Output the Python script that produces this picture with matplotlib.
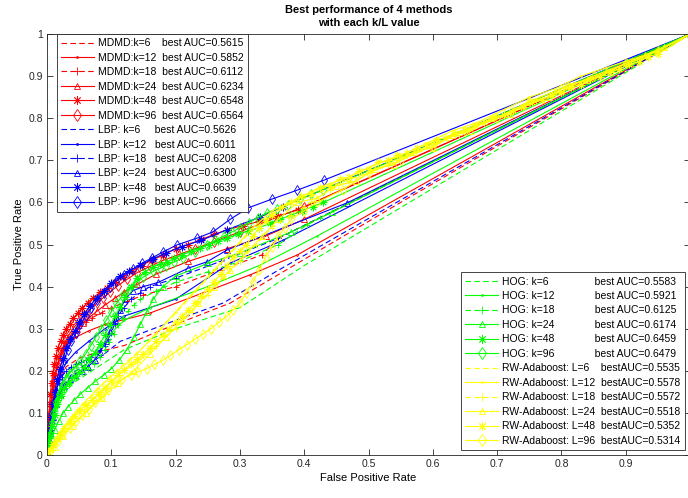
import matplotlib
matplotlib.use("Agg")
import matplotlib.pyplot as plt

plt.rcParams['font.family'] = ['Liberation Sans', 'DejaVu Sans']

# ---- ROC points (fpr, tpr) ----
# MDMD (red)
MDMD_K6_FPR = [0, 0.004, 0.01, 0.018, 0.03, 0.05, 0.08, 0.12, 0.183, 0.285, 0.55, 1]
MDMD_K6_TPR = [0, 0.06, 0.13, 0.18, 0.21, 0.23, 0.245, 0.26, 0.30, 0.361, 0.60, 1]
MDMD_K12_FPR = [0, 0.003, 0.007, 0.012, 0.02, 0.03, 0.045, 0.065, 0.09, 0.16, 0.316, 0.389, 1]
MDMD_K12_TPR = [0, 0.07, 0.14, 0.19, 0.23, 0.26, 0.28, 0.295, 0.31, 0.337, 0.428, 0.475, 1]
MDMD_K18_FPR = [0, 0.002, 0.004, 0.006, 0.008, 0.01, 0.013, 0.016, 0.02, 0.025, 0.03, 0.036, 0.043,
                0.05, 0.06, 0.07, 0.085, 0.1, 0.125, 0.15, 0.2, 0.27, 0.334, 0.36, 1]
MDMD_K18_TPR = [0, 0.04, 0.08, 0.11, 0.14, 0.165, 0.19, 0.21, 0.23, 0.25, 0.265, 0.278, 0.29,
                0.302, 0.315, 0.326, 0.338, 0.35, 0.365, 0.38, 0.4, 0.44, 0.475, 0.515, 1]
MDMD_K24_FPR = [0, 0.001, 0.003, 0.005, 0.007, 0.01, 0.013, 0.017, 0.021, 0.026, 0.032, 0.039, 0.047,
                0.056, 0.066, 0.078, 0.09, 0.105, 0.12, 0.14, 0.17, 0.22, 0.28, 0.34, 0.4, 1]
MDMD_K24_TPR = [0, 0.03, 0.07, 0.1, 0.13, 0.16, 0.19, 0.215, 0.237, 0.256, 0.272, 0.287, 0.3,
                0.313, 0.327, 0.342, 0.356, 0.372, 0.387, 0.405, 0.43, 0.46, 0.49, 0.52, 0.56, 1]
MDMD_K48_FPR = [0, 0.001, 0.002, 0.003, 0.004, 0.005, 0.007, 0.009, 0.011, 0.014, 0.017, 0.021, 0.025,
                0.03, 0.035, 0.041, 0.048, 0.055, 0.063, 0.072, 0.082, 0.093, 0.105, 0.118, 0.132,
                0.147, 0.163, 0.18, 0.2, 0.22, 0.24, 0.26, 0.28, 0.305, 0.33, 0.36, 0.39, 1]
MDMD_K48_TPR = [0, 0.03, 0.06, 0.09, 0.12, 0.145, 0.17, 0.195, 0.215, 0.235, 0.255, 0.27, 0.285,
                0.3, 0.312, 0.325, 0.338, 0.35, 0.362, 0.374, 0.386, 0.397, 0.41, 0.423, 0.437,
                0.45, 0.463, 0.474, 0.49, 0.5, 0.512, 0.524, 0.535, 0.545, 0.555, 0.568, 0.582, 1]
MDMD_K96_FPR = [0, 0.001, 0.002, 0.003, 0.005, 0.007, 0.009, 0.011, 0.014, 0.017, 0.021, 0.025, 0.03,
                0.036, 0.043, 0.05, 0.058, 0.067, 0.077, 0.087, 0.098, 0.11, 0.125, 0.14, 0.16, 0.18,
                0.205, 0.23, 0.26, 0.3, 0.35, 0.4, 1]
MDMD_K96_TPR = [0, 0.025, 0.05, 0.075, 0.1, 0.125, 0.15, 0.175, 0.2, 0.22, 0.24, 0.258, 0.275,
                0.29, 0.305, 0.318, 0.332, 0.346, 0.36, 0.373, 0.387, 0.402, 0.418, 0.433, 0.448, 0.462,
                0.476, 0.49, 0.507, 0.53, 0.56, 0.59, 1]

# LBP (blue)
LBP_K6_FPR = [0, 0.006, 0.014, 0.025, 0.04, 0.06, 0.085, 0.114, 0.2, 0.274, 0.352, 1]
LBP_K6_TPR = [0, 0.06, 0.12, 0.165, 0.195, 0.215, 0.235, 0.27, 0.32, 0.361, 0.432, 1]
LBP_K12_FPR = [0, 0.005, 0.012, 0.02, 0.03, 0.045, 0.065, 0.09, 0.12, 0.2, 0.285, 0.367, 1]
LBP_K12_TPR = [0, 0.07, 0.14, 0.19, 0.22, 0.245, 0.27, 0.3, 0.33, 0.37, 0.456, 0.51, 1]
LBP_K18_FPR = [0, 0.002, 0.004, 0.007, 0.01, 0.014, 0.018, 0.023, 0.03, 0.037, 0.045, 0.053, 0.06,
               0.068, 0.075, 0.083, 0.09, 0.095, 0.1, 0.105, 0.11, 0.12, 0.13, 0.145, 0.16, 0.2,
               0.27, 0.36, 1]
LBP_K18_TPR = [0, 0.03, 0.06, 0.09, 0.12, 0.145, 0.17, 0.186, 0.2, 0.208, 0.215, 0.22, 0.225,
               0.232, 0.24, 0.25, 0.26, 0.275, 0.29, 0.31, 0.33, 0.35, 0.37, 0.385, 0.4, 0.42,
               0.46, 0.515, 1]
LBP_K24_FPR = [0, 0.002, 0.005, 0.009, 0.014, 0.02, 0.027, 0.035, 0.044, 0.054, 0.064, 0.074, 0.083,
               0.091, 0.098, 0.105, 0.113, 0.122, 0.133, 0.15, 0.173, 0.22, 0.249, 0.28, 0.467, 1]
LBP_K24_TPR = [0, 0.03, 0.06, 0.09, 0.12, 0.145, 0.165, 0.18, 0.19, 0.2, 0.21, 0.225, 0.245,
               0.27, 0.295, 0.32, 0.345, 0.37, 0.39, 0.4, 0.41, 0.444, 0.459, 0.487, 0.599, 1]
LBP_K48_FPR = [0, 0.002, 0.004, 0.006, 0.009, 0.012, 0.016, 0.02, 0.025, 0.03, 0.036, 0.043, 0.05,
               0.058, 0.067, 0.077, 0.088, 0.1, 0.113, 0.128, 0.145, 0.165, 0.185, 0.21, 0.24, 0.28,
               0.331, 0.367, 1]
LBP_K48_TPR = [0, 0.03, 0.06, 0.09, 0.12, 0.15, 0.18, 0.205, 0.23, 0.255, 0.275, 0.295, 0.315,
               0.335, 0.355, 0.373, 0.39, 0.408, 0.424, 0.438, 0.451, 0.466, 0.48, 0.495, 0.51, 0.535,
               0.565, 0.59, 1]
LBP_K96_FPR = [0, 0.002, 0.004, 0.006, 0.008, 0.011, 0.014, 0.018, 0.022, 0.027, 0.032, 0.038, 0.045,
               0.052, 0.06, 0.069, 0.078, 0.088, 0.098, 0.108, 0.12, 0.133, 0.147, 0.163, 0.18, 0.202,
               0.233, 0.258, 0.285, 0.313, 0.35, 0.389, 0.431, 1]
LBP_K96_TPR = [0, 0.025, 0.05, 0.075, 0.1, 0.125, 0.15, 0.175, 0.2, 0.225, 0.25, 0.27, 0.29,
               0.31, 0.33, 0.35, 0.368, 0.385, 0.4, 0.414, 0.428, 0.441, 0.455, 0.468, 0.482, 0.499,
               0.515, 0.53, 0.56, 0.587, 0.608, 0.629, 0.653, 1]

# HOG (green)
HOG_K6_FPR = [0, 0.006, 0.014, 0.025, 0.04, 0.06, 0.08, 0.1, 0.12, 0.2, 0.3, 0.4, 1]
HOG_K6_TPR = [0, 0.05, 0.1, 0.14, 0.17, 0.19, 0.21, 0.23, 0.25, 0.3, 0.35, 0.45, 1]
HOG_K12_FPR = [0, 0.005, 0.012, 0.02, 0.03, 0.045, 0.065, 0.085, 0.1, 0.12, 0.16, 0.25, 0.33, 0.42, 1]
HOG_K12_TPR = [0, 0.06, 0.12, 0.16, 0.19, 0.21, 0.23, 0.26, 0.29, 0.32, 0.35, 0.4, 0.45, 0.52, 1]
HOG_K18_FPR = [0, 0.002, 0.005, 0.008, 0.012, 0.017, 0.023, 0.03, 0.038, 0.046, 0.055, 0.064, 0.073,
               0.082, 0.09, 0.097, 0.104, 0.111, 0.118, 0.126, 0.135, 0.145, 0.17, 0.2, 0.25, 0.3,
               0.36, 0.404, 0.425, 1]
HOG_K18_TPR = [0, 0.03, 0.055, 0.08, 0.105, 0.13, 0.15, 0.165, 0.178, 0.188, 0.196, 0.205, 0.217,
               0.232, 0.25, 0.268, 0.288, 0.308, 0.326, 0.342, 0.356, 0.37, 0.39, 0.41, 0.435, 0.46,
               0.5, 0.546, 0.563, 1]
HOG_K24_FPR = [0, 0.003, 0.007, 0.012, 0.018, 0.025, 0.033, 0.042, 0.052, 0.063, 0.075, 0.088, 0.1,
               0.112, 0.124, 0.135, 0.145, 0.155, 0.165, 0.18, 0.2, 0.25, 0.3, 0.38, 0.443, 1]
HOG_K24_TPR = [0, 0.02, 0.04, 0.06, 0.08, 0.1, 0.115, 0.13, 0.145, 0.16, 0.175, 0.19, 0.205,
               0.225, 0.25, 0.28, 0.31, 0.34, 0.37, 0.4, 0.425, 0.455, 0.48, 0.53, 0.577, 1]
HOG_K48_FPR = [0, 0.002, 0.005, 0.008, 0.012, 0.016, 0.021, 0.027, 0.034, 0.042, 0.05, 0.058, 0.066,
               0.074, 0.082, 0.09, 0.098, 0.106, 0.114, 0.122, 0.13, 0.14, 0.152, 0.165, 0.176, 0.187,
               0.198, 0.21, 0.224, 0.238, 0.252, 0.266, 0.28, 0.297, 0.313, 0.33, 0.347, 0.363, 0.38,
               0.397, 0.413, 0.43, 1]
HOG_K48_TPR = [0, 0.02, 0.045, 0.07, 0.095, 0.12, 0.14, 0.158, 0.172, 0.185, 0.197, 0.21, 0.225,
               0.243, 0.263, 0.285, 0.308, 0.33, 0.352, 0.375, 0.398, 0.42, 0.435, 0.447, 0.453, 0.459,
               0.467, 0.475, 0.484, 0.492, 0.5, 0.508, 0.515, 0.524, 0.532, 0.54, 0.55, 0.56, 0.57,
               0.58, 0.59, 0.6, 1]
HOG_K96_FPR = [0, 0.002, 0.004, 0.007, 0.01, 0.014, 0.018, 0.023, 0.029, 0.036, 0.044, 0.052, 0.06,
               0.068, 0.076, 0.084, 0.092, 0.1, 0.108, 0.117, 0.127, 0.138, 0.15, 0.165, 0.175, 0.185,
               0.198, 0.212, 0.23, 0.249, 0.262, 0.275, 0.288, 0.3, 0.314, 0.328, 0.342, 0.358, 0.375,
               0.393, 0.411, 0.43, 1]
HOG_K96_TPR = [0, 0.025, 0.05, 0.075, 0.1, 0.125, 0.145, 0.165, 0.18, 0.195, 0.21, 0.225, 0.24,
               0.26, 0.28, 0.3, 0.32, 0.34, 0.36, 0.378, 0.395, 0.41, 0.423, 0.436, 0.443, 0.45,
               0.459, 0.468, 0.483, 0.499, 0.51, 0.52, 0.53, 0.54, 0.552, 0.564, 0.575, 0.585, 0.595,
               0.607, 0.619, 0.63, 1]

# RW-Adaboost (yellow)
RW_L6_FPR = [0, 0.01, 0.025, 0.045, 0.07, 0.1, 0.13, 0.16, 0.19, 0.22, 0.25, 0.28, 0.31, 0.34, 0.38,
             0.42, 0.46, 0.5, 0.54, 0.58, 0.62, 0.66, 0.7, 0.74, 0.78, 0.82, 0.86, 0.9, 0.94, 0.97, 1]
RW_L6_TPR = [0, 0.03, 0.06, 0.1, 0.14, 0.19, 0.23, 0.27, 0.32, 0.37, 0.42, 0.47, 0.52, 0.56, 0.6,
             0.62, 0.65, 0.67, 0.7, 0.72, 0.75, 0.78, 0.8, 0.83, 0.85, 0.88, 0.9, 0.93, 0.95, 0.97, 1]
RW_L12_FPR = [0, 0.008, 0.02, 0.035, 0.055, 0.08, 0.11, 0.14, 0.17, 0.2, 0.23, 0.26, 0.29, 0.32, 0.35,
              0.39, 0.43, 0.47, 0.51, 0.55, 0.59, 0.63, 0.67, 0.71, 0.75, 0.79, 0.83, 0.87, 0.91, 0.95, 1]
RW_L12_TPR = [0, 0.025, 0.055, 0.085, 0.12, 0.16, 0.2, 0.24, 0.29, 0.34, 0.39, 0.44, 0.49, 0.54, 0.58,
              0.61, 0.64, 0.66, 0.69, 0.71, 0.74, 0.77, 0.79, 0.82, 0.85, 0.87, 0.9, 0.92, 0.94, 0.96, 1]
RW_L18_FPR = [0, 0.01, 0.022, 0.038, 0.058, 0.082, 0.11, 0.14, 0.17, 0.2, 0.225, 0.25, 0.275, 0.3,
              0.325, 0.35, 0.38, 0.41, 0.44, 0.47, 0.5, 0.53, 0.56, 0.6, 0.64, 0.68, 0.72, 0.76,
              0.8, 0.84, 0.88, 0.92, 0.95, 1]
RW_L18_TPR = [0, 0.02, 0.05, 0.08, 0.11, 0.15, 0.19, 0.22, 0.26, 0.3, 0.34, 0.38, 0.42, 0.46,
              0.5, 0.54, 0.57, 0.6, 0.63, 0.65, 0.67, 0.69, 0.71, 0.74, 0.76, 0.79, 0.81, 0.84,
              0.86, 0.89, 0.91, 0.94, 0.96, 1]
RW_L24_FPR = [0, 0.012, 0.025, 0.04, 0.06, 0.085, 0.11, 0.135, 0.16, 0.185, 0.21, 0.235, 0.26, 0.285,
              0.31, 0.335, 0.36, 0.39, 0.42, 0.45, 0.48, 0.51, 0.54, 0.57, 0.6, 0.63, 0.66, 0.69,
              0.72, 0.75, 0.78, 0.81, 0.84, 0.87, 0.9, 0.93, 0.96, 1]
RW_L24_TPR = [0, 0.02, 0.045, 0.07, 0.1, 0.135, 0.17, 0.2, 0.24, 0.28, 0.32, 0.36, 0.4, 0.44,
              0.48, 0.52, 0.56, 0.6, 0.61, 0.64, 0.65, 0.68, 0.69, 0.72, 0.73, 0.76, 0.77, 0.8,
              0.81, 0.84, 0.85, 0.88, 0.89, 0.91, 0.93, 0.95, 0.97, 1]
RW_L48_FPR = [0, 0.005, 0.01, 0.015, 0.02, 0.027, 0.035, 0.042, 0.05, 0.06, 0.07, 0.08, 0.09, 0.1,
              0.11, 0.12, 0.13, 0.14, 0.15, 0.16, 0.17, 0.18, 0.19, 0.2, 0.21, 0.22, 0.23, 0.24, 0.25,
              0.26, 0.27, 0.28, 0.29, 0.3, 0.31, 0.32, 0.33, 0.34, 0.35, 0.365, 0.38, 0.395, 0.41,
              0.425, 0.44, 0.455, 0.47, 0.485, 0.5, 0.515, 0.53, 0.545, 0.56, 0.575, 0.59, 0.605,
              0.62, 0.635, 0.65, 0.665, 0.68, 0.695, 0.71, 0.725, 0.74, 0.755, 0.77, 0.785, 0.8,
              0.815, 0.83, 0.845, 0.86, 0.875, 0.89, 0.905, 0.92, 0.935, 0.95, 1]
RW_L48_TPR = [0, 0.012, 0.025, 0.037, 0.05, 0.065, 0.08, 0.092, 0.105, 0.118, 0.13, 0.145, 0.16, 0.175,
              0.19, 0.203, 0.215, 0.228, 0.24, 0.255, 0.27, 0.285, 0.3, 0.315, 0.33, 0.345, 0.36,
              0.378, 0.395, 0.412, 0.43, 0.45, 0.47, 0.485, 0.5, 0.52, 0.54, 0.555, 0.57, 0.59,
              0.6, 0.615, 0.62, 0.635, 0.64, 0.655, 0.66, 0.675, 0.68, 0.695, 0.7, 0.712, 0.718,
              0.73, 0.736, 0.748, 0.754, 0.766, 0.772, 0.784, 0.79, 0.802, 0.808, 0.82, 0.826,
              0.838, 0.844, 0.856, 0.862, 0.874, 0.88, 0.892, 0.898, 0.91, 0.916, 0.928, 0.934,
              0.946, 0.952, 1]
RW_L96_FPR = [0, 0.005, 0.01, 0.017, 0.025, 0.035, 0.045, 0.055, 0.065, 0.075, 0.085, 0.095, 0.105,
              0.117, 0.13, 0.142, 0.155, 0.167, 0.18, 0.192, 0.205, 0.217, 0.23, 0.242, 0.255, 0.267,
              0.28, 0.29, 0.3, 0.31, 0.32, 0.33, 0.34, 0.35, 0.36, 0.37, 0.38, 0.4, 0.42, 0.46, 0.5,
              0.55, 0.6, 0.65, 0.7, 0.75, 0.8, 0.85, 0.9, 0.95, 1]
RW_L96_TPR = [0, 0.01, 0.02, 0.033, 0.05, 0.065, 0.08, 0.095, 0.11, 0.125, 0.14, 0.155, 0.17,
              0.18, 0.19, 0.198, 0.205, 0.215, 0.225, 0.237, 0.25, 0.262, 0.275, 0.287, 0.3, 0.315,
              0.33, 0.345, 0.36, 0.385, 0.41, 0.44, 0.47, 0.495, 0.52, 0.54, 0.56, 0.58, 0.6, 0.63,
              0.67, 0.7, 0.735, 0.77, 0.8, 0.84, 0.87, 0.9, 0.93, 0.96, 1]

K_VALUES = [6, 12, 18, 24, 48, 96]
MDMD_AUC = ['0.5615', '0.5852', '0.6112', '0.6234', '0.6548', '0.6564']
LBP_AUC = ['0.5626', '0.6011', '0.6208', '0.6300', '0.6639', '0.6666']
HOG_AUC = ['0.5583', '0.5921', '0.6125', '0.6174', '0.6459', '0.6479']
RW_AUC = ['0.5535', '0.5578', '0.5572', '0.5518', '0.5352', '0.5314']

MDMD_CURVES = [(MDMD_K6_FPR, MDMD_K6_TPR), (MDMD_K12_FPR, MDMD_K12_TPR), (MDMD_K18_FPR, MDMD_K18_TPR),
               (MDMD_K24_FPR, MDMD_K24_TPR), (MDMD_K48_FPR, MDMD_K48_TPR), (MDMD_K96_FPR, MDMD_K96_TPR)]
LBP_CURVES = [(LBP_K6_FPR, LBP_K6_TPR), (LBP_K12_FPR, LBP_K12_TPR), (LBP_K18_FPR, LBP_K18_TPR),
              (LBP_K24_FPR, LBP_K24_TPR), (LBP_K48_FPR, LBP_K48_TPR), (LBP_K96_FPR, LBP_K96_TPR)]
HOG_CURVES = [(HOG_K6_FPR, HOG_K6_TPR), (HOG_K12_FPR, HOG_K12_TPR), (HOG_K18_FPR, HOG_K18_TPR),
              (HOG_K24_FPR, HOG_K24_TPR), (HOG_K48_FPR, HOG_K48_TPR), (HOG_K96_FPR, HOG_K96_TPR)]
RW_CURVES = [(RW_L6_FPR, RW_L6_TPR), (RW_L12_FPR, RW_L12_TPR), (RW_L18_FPR, RW_L18_TPR),
             (RW_L24_FPR, RW_L24_TPR), (RW_L48_FPR, RW_L48_TPR), (RW_L96_FPR, RW_L96_TPR)]

# matlab-like line specs for k = 6, 12, 18, 24, 48, 96
styles = [('--', None, 5), ('-', '.', 2.5), ('--', '+', 5), ('-', '^', 4.5), ('-', (8, 2, 0), 5.5), ('-', 'd', 5.5)]

fig = plt.figure(figsize=(6.88, 4.98), dpi=100)
ax = fig.add_axes([47 / 688, 43 / 498, 643 / 688, 421 / 498])


def draw_group(curves, color, labels):
    handles = []
    for (fpr, tpr), (ls, mk, ms), lab in zip(curves, styles, labels):
        h, = ax.plot(fpr, tpr, linestyle=ls, marker=mk, markersize=ms, color=color,
                     markerfacecolor='none', markeredgewidth=0.6, linewidth=0.8, label=lab,
                     dashes=(5, 3) if ls == '--' else (None, None))
        handles.append(h)
    return handles


mdmd_labels = ['MDMD:k=%d%sbest AUC=%s' % (k, '    ' if k < 10 else '  ', a) for k, a in zip(K_VALUES, MDMD_AUC)]
lbp_labels = ['LBP: k=%d%sbest AUC=%s' % (k, '     ' if k < 10 else '   ', a) for k, a in zip(K_VALUES, LBP_AUC)]
hog_labels = ['HOG: k=%d%sbest AUC=%s' % (k, '                ' if k < 10 else '              ', a)
              for k, a in zip(K_VALUES, HOG_AUC)]
rw_labels = ['RW-Adaboost: L=%d%sbestAUC=%s' % (k, '    ' if k < 10 else '  ', a) for k, a in zip(K_VALUES, RW_AUC)]

h1 = draw_group(MDMD_CURVES, '#FF0000', mdmd_labels)
h2 = draw_group(LBP_CURVES, '#0000FF', lbp_labels)
h3 = draw_group(HOG_CURVES, '#00FF00', hog_labels)
h4 = draw_group(RW_CURVES, '#FFFF00', rw_labels)

ax.set_xlim(0, 1)
ax.set_ylim(0, 1)
ax.set_xticks([0, 0.1, 0.2, 0.3, 0.4, 0.5, 0.6, 0.7, 0.8, 0.9, 1])
ax.set_xticklabels(['0', '0.1', '0.2', '0.3', '0.4', '0.5', '0.6', '0.7', '0.8', '0.9', ''])
ax.set_yticks([0, 0.1, 0.2, 0.3, 0.4, 0.5, 0.6, 0.7, 0.8, 0.9, 1])
ax.set_yticklabels(['0', '0.1', '0.2', '0.3', '0.4', '0.5', '0.6', '0.7', '0.8', '0.9', '1'])
ax.tick_params(direction='in', top=True, right=True, length=4, width=0.6, labelsize=7.5,
               colors='#262626', pad=3)
for sp in ax.spines.values():
    sp.set_color('#262626')
    sp.set_linewidth(0.6)

ax.set_xlabel('False Positive Rate', fontsize=8, labelpad=3)
ax.set_ylabel('True Positive Rate', fontsize=8, labelpad=3)
ax.set_title('Best performance of 4 methods\nwith each k/L value', fontsize=8, fontweight='bold',
             linespacing=1.3, pad=6)

leg1 = ax.legend(handles=h1 + h2, loc='upper left', bbox_to_anchor=(0.015, 1.0), fontsize=7.5,
                 handlelength=3.2, fancybox=False, framealpha=1, edgecolor='#262626', markerscale=1.1,
                 borderaxespad=0, labelspacing=0.43, handletextpad=0.4, borderpad=0.4)
leg1.get_frame().set_linewidth(0.6)
ax.add_artist(leg1)
leg2 = ax.legend(handles=h3 + h4, loc='lower right', bbox_to_anchor=(0.992, 0.012), fontsize=7.5,
                 handlelength=3.2, fancybox=False, framealpha=1, edgecolor='#262626', markerscale=1.1,
                 borderaxespad=0, labelspacing=0.43, handletextpad=0.4, borderpad=0.4)
leg2.get_frame().set_linewidth(0.6)

fig.savefig('out.png', dpi=100)
